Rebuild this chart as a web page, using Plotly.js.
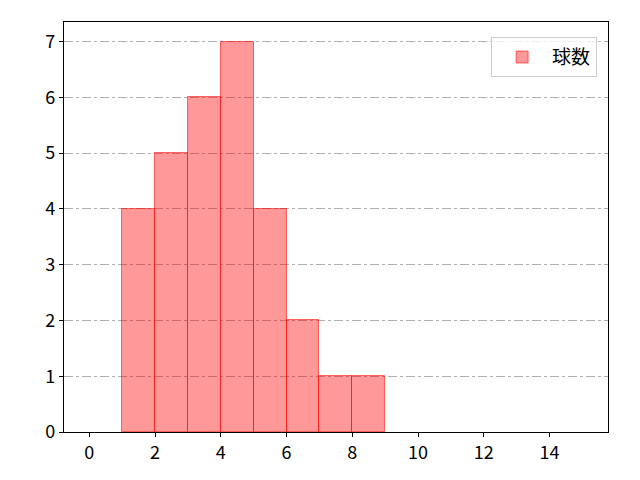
<!DOCTYPE html>
<html>
<head>
<meta charset="utf-8">
<script src="https://cdn.plot.ly/plotly-3.0.1.min.js"></script>
<style>
  html, body { margin: 0; padding: 0; background: #fff; }
  #chart { width: 640px; height: 480px; }
</style>
</head>
<body>
<div id="chart"></div>
<script>
// histogram bins (left edges), counts per bin
const binStarts = [1, 2, 3, 4, 5, 6, 7, 8];
const binWidth = 1;
const counts = [4, 5, 6, 7, 4, 2, 1, 1];
const seriesName = "球数";
const xTicks = [0, 2, 4, 6, 8, 10, 12, 14];
const yTicks = [0, 1, 2, 3, 4, 5, 6, 7];

let centers = binStarts.map(function (s) { return s + binWidth / 2; });

let data = [
    {
        type: "bar",
        x: centers,
        y: counts,
        width: binWidth,
        name: seriesName,
        showlegend: true,
        marker: {
            color: "rgba(255,0,0,0.4)",
            line: { color: "rgba(255,0,0,0.55)", width: 1 }
        },
        hoverinfo: "x+y"
    }
];

let font = { family: "'Noto Sans CJK JP', 'DejaVu Sans', sans-serif", size: 18, color: "#000" };

let layout = {
    width: 640,
    height: 480,
    margin: { l: 64, r: 32, t: 22, b: 48 },
    paper_bgcolor: "#fff",
    plot_bgcolor: "#fff",
    font: font,
    bargap: 0,
    xaxis: {
        range: [-0.77, 15.78],
        tickvals: xTicks,
        ticks: "outside",
        ticklen: 4,
        tickcolor: "#000",
        showgrid: false,
        zeroline: false,
        showline: true,
        mirror: true,
        linecolor: "#000",
        linewidth: 1.3
    },
    yaxis: {
        range: [0, 7.35],
        tickvals: yTicks,
        ticks: "outside",
        ticklen: 4,
        tickcolor: "#000",
        showgrid: true,
        gridcolor: "#b0b0b0",
        griddash: "dashdot",
        gridwidth: 1,
        zeroline: false,
        showline: true,
        mirror: true,
        linecolor: "#000",
        linewidth: 1.3
    },
    legend: {
        x: 0.98,
        y: 0.963,
        xanchor: "right",
        yanchor: "top",
        bgcolor: "rgba(255,255,255,0.8)",
        bordercolor: "#cccccc",
        borderwidth: 1,
        itemwidth: 50,
        font: { family: font.family, size: 19, color: "#000" }
    },
    showlegend: true
};

Plotly.newPlot("chart", data, layout, { displayModeBar: false });
</script>
</body>
</html>
